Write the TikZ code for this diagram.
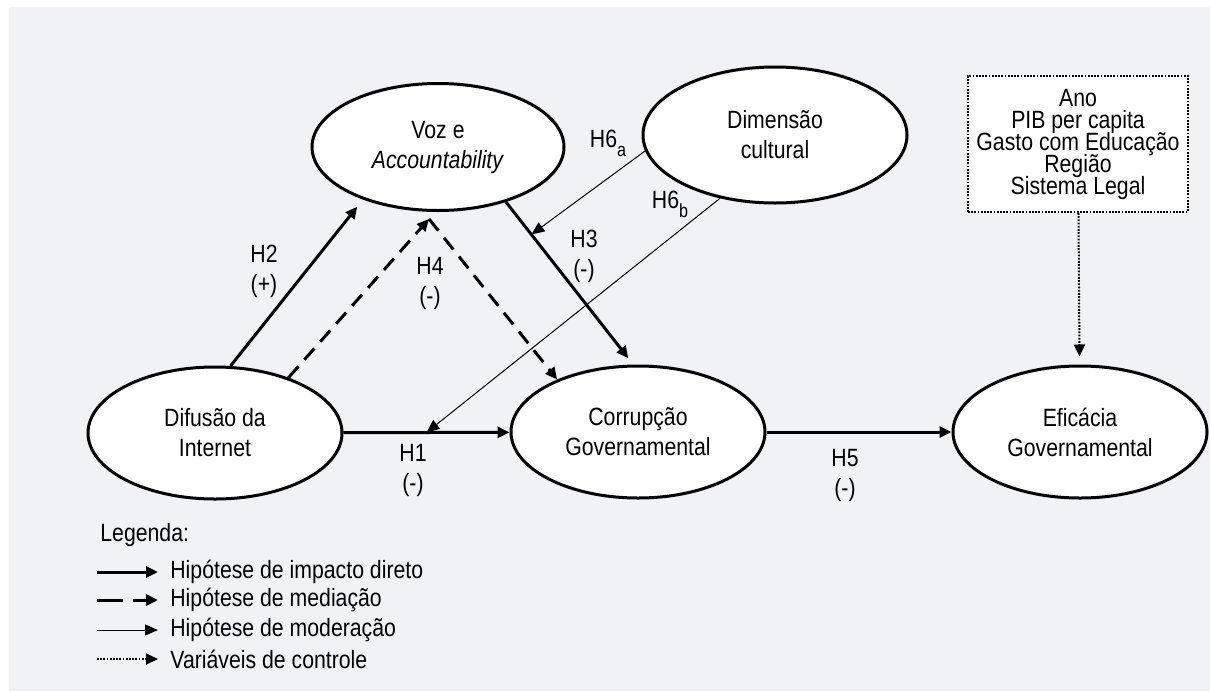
\documentclass[tikz,border=0pt]{standalone}
\usepackage{fontspec}
\setmainfont{Liberation Sans}[FakeStretch=0.85]
\usetikzlibrary{shapes.geometric,arrows.meta}
\definecolor{bggray}{RGB}{241,242,244}

\begin{document}
\begin{tikzpicture}[x=0.5pt, y=-0.5pt,
    construct/.style={ellipse, draw=black, line width=1.5pt, fill=white,
        minimum width=127pt, minimum height=66pt, inner sep=0pt, align=center,
        font=\fontsize{12.5}{15}\selectfont},
    direct/.style={line width=1.5pt, -{Triangle[length=6pt,width=5.5pt]}},
    mediation/.style={direct, dash pattern=on 7.5pt off 4.5pt},
    moderation/.style={line width=0.5pt, -{Triangle[length=6.5pt,width=5.5pt]}},
    control/.style={line width=1pt, dash pattern=on 0.9pt off 0.7pt,
        -{Triangle[length=6pt,width=5.5pt]}},
    ctrlbox/.style={draw=black, line width=1pt, dash pattern=on 0.9pt off 0.7pt,
        fill=white, minimum width=110pt, minimum height=68pt, align=center,
        font=\fontsize{12.5}{11}\selectfont\lineskiplimit-6pt\relax},
    hyp/.style={align=center, font=\fontsize{12.5}{15}\selectfont},
    legtext/.style={anchor=west, inner xsep=6pt, font=\fontsize{12.5}{13}\selectfont}
]
    % background
    \useasboundingbox (0,0) rectangle (1210,691);
    \fill[bggray] (9,7) rectangle (1210,691);

    % constructs
    \node[construct] (dif) at (215,433) {Difusão da\\Internet};
    \node[construct] (cor) at (638,432) {Corrupção\\Governamental};
    \node[construct] (efi) at (1080,432) {Eficácia\\Governamental};
    \node[construct, minimum width=126pt, minimum height=63.5pt] (voz) at (438,147)
        {Voz e\\\textit{Accountability}};
    \node[construct, minimum width=132pt, minimum height=68pt] (dim) at (775,135)
        {Dimensão\\cultural};
    \node[ctrlbox] (ctrl) at (1078,144)
        {Ano\\PIB per capita\\Gasto com Educação\\Região\\Sistema Legal};

    % hypotheses
    \draw[direct] (dif) -- coordinate[pos=0.5] (h1m) (cor);
    \draw[direct] (cor) -- (efi);
    \draw[direct, shorten >=4.5pt] (dif.77) -- (voz.-145);
    \draw[direct, shorten >=4pt] (voz.-39) -- coordinate[pos=0.2] (h3m) (cor.94);
    \coordinate (apex) at (429,219);
    \draw[mediation] (dif.37) -- (apex);
    \draw[mediation] (apex) -- (cor.147);
    \draw[moderation] (dim.187) -- (h3m);
    \draw[moderation] (dim.229) -- (h1m);
    \draw[control, shorten >=4pt] (ctrl) -- (efi);

    % labels
    \node[hyp] (lh1) at (413,470) {H1\\(-)};
    \node[hyp] (lh2) at (264,271) {H2\\(+)};
    \node[hyp] (lh3) at (584,256) {H3\\(-)};
    \node[hyp] (lh4) at (430,283) {H4\\(-)};
    \node[hyp] (lh5) at (845,475) {H5\\(-)};
    \node[hyp] (lh6a) at (608,143)
        {H6\raisebox{-0.7ex}{\fontsize{9.5}{9.5}\selectfont a}};
    \node[hyp] (lh6b) at (670,204)
        {H6\raisebox{-0.7ex}{\fontsize{9.5}{9.5}\selectfont b}};

    % legend
    \node[legtext] (leg) at (88,535) {Legenda:};
    \node[legtext] (l1) at (158,572) {Hipótese de impacto direto};
    \node[legtext] (l2) at (158,600) {Hipótese de mediação};
    \node[legtext] (l3) at (158,630) {Hipótese de moderação};
    \node[legtext] (l4) at (158,659) {Variáveis de controle};
    \coordinate (s1) at (97,572);
    \coordinate (s2) at (97,600);
    \coordinate (s3) at (97,630);
    \coordinate (s4) at (97,659);
    \draw[direct] (s1) -- (l1.west);
    \draw[direct, dash pattern=on 13pt off 5pt] (s2) -- (l2.west);
    \draw[moderation] (s3) -- (l3.west);
    \draw[control] (s4) -- (l4.west);
\end{tikzpicture}
\end{document}
